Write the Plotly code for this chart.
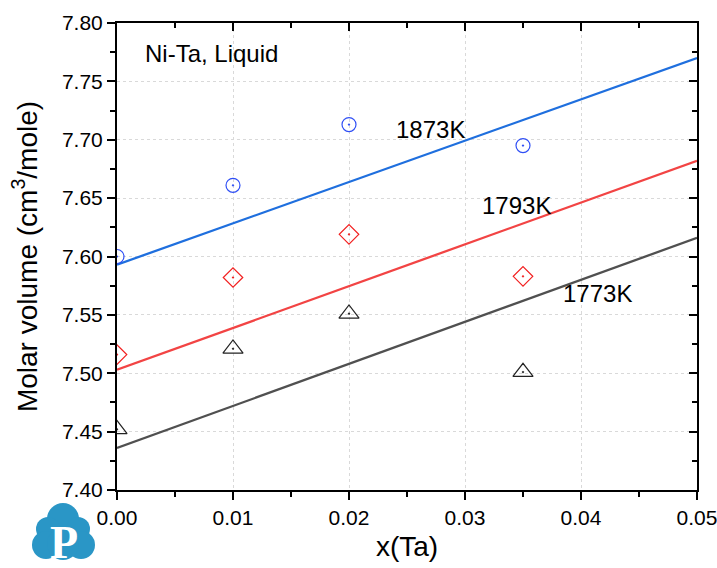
import plotly.graph_objects as go

# ---- data ----
x_exp = [0.0, 0.01, 0.02, 0.035]
v_1873 = [7.600, 7.661, 7.713, 7.695]
v_1793 = [7.516, 7.582, 7.619, 7.583]
v_1773 = [7.452, 7.521, 7.551, 7.501]

x_fit = [0.0, 0.05]
fit_1873 = [7.593, 7.770]
fit_1793 = [7.503, 7.682]
fit_1773 = [7.436, 7.616]

x_ticks = [0.00, 0.01, 0.02, 0.03, 0.04, 0.05]
x_ticklabels = ["0.00", "0.01", "0.02", "0.03", "0.04", "0.05"]
y_ticks = [7.40, 7.45, 7.50, 7.55, 7.60, 7.65, 7.70, 7.75, 7.80]
y_ticklabels = ["7.40", "7.45", "7.50", "7.55", "7.60", "7.65", "7.70", "7.75", "7.80"]

labels = ["1873K", "1793K", "1773K"]
label_x = [0.0270, 0.0344, 0.0414]
label_y = [7.709, 7.644, 7.568]

FONT = "Liberation Sans, Arial, sans-serif"

W, H = 717, 568
PL, PR, PT, PB = 117, 697, 23, 490


def px2paper_x(px):
    return (px - PL) / (PR - PL)


def px2paper_y(py):
    return (PB - py) / (PB - PT)


fig = go.Figure()

# fit lines
fig.add_trace(go.Scatter(x=x_fit, y=fit_1873, mode="lines",
                         line=dict(color="#1f6fde", width=2.3), showlegend=False))
fig.add_trace(go.Scatter(x=x_fit, y=fit_1793, mode="lines",
                         line=dict(color="#f24444", width=2.3), showlegend=False))
fig.add_trace(go.Scatter(x=x_fit, y=fit_1773, mode="lines",
                         line=dict(color="#505050", width=2.3), showlegend=False))

# experimental points
fig.add_trace(go.Scatter(x=x_exp, y=v_1873, mode="markers",
                         marker=dict(symbol="circle-open-dot", size=14, color="#2f4ff5",
                                     line=dict(width=1.2)), showlegend=False))
fig.add_trace(go.Scatter(x=x_exp, y=v_1793, mode="markers",
                         marker=dict(symbol="diamond-open-dot", size=15, color="#f22020",
                                     line=dict(width=1.2)), showlegend=False))
fig.add_trace(go.Scatter(x=x_exp, y=v_1773, mode="markers",
                         marker=dict(symbol="triangle-up-open-dot", size=17.5, color="#222222",
                                     line=dict(width=1.2)), showlegend=False))

# invisible trace for mirrored top/right axes
fig.add_trace(go.Scatter(x=[x_ticks[0]], y=[y_ticks[0]], xaxis="x2", yaxis="y2",
                         mode="markers", marker=dict(opacity=0), showlegend=False,
                         hoverinfo="skip"))

for txt, lx, ly in zip(labels, label_x, label_y):
    fig.add_annotation(x=lx, y=ly, text=txt, showarrow=False,
                       font=dict(family=FONT, size=24, color="black"))

fig.add_annotation(x=0.00224, y=7.774, text="Ni-Ta, Liquid", showarrow=False,
                   xanchor="left", font=dict(family=FONT, size=24, color="black"))

# logo (cloud with P), circles given in screen pixels
logo_col = "#2a96c6"
for (cx, cy, r) in [(63, 519, 16), (48, 529, 12), (78, 529, 12),
                    (46, 545, 14), (81, 545, 14), (63, 544, 16)]:
    fig.add_shape(type="circle", xref="paper", yref="paper",
                  x0=px2paper_x(cx - r), x1=px2paper_x(cx + r),
                  y0=px2paper_y(cy + r), y1=px2paper_y(cy - r),
                  fillcolor=logo_col, line=dict(width=0), layer="below")
fig.add_annotation(xref="paper", yref="paper", x=px2paper_x(63.5), y=px2paper_y(542),
                   text="<b>P</b>", showarrow=False, xanchor="center", yanchor="middle",
                   font=dict(family="Liberation Serif, DejaVu Serif, serif", size=46, color="white"))

axis_common = dict(showline=True, linecolor="black", linewidth=2,
                   tickfont=dict(family=FONT, size=21, color="black"),
                   tickcolor="black", tickwidth=2, ticklen=8, automargin=False)

GRID = dict(showgrid=True, gridcolor="#d9d9d9", griddash="3px,3px", gridwidth=1)

fig.update_layout(
    width=W, height=H,
    margin=dict(l=PL, r=W - PR, t=PT, b=H - PB, autoexpand=False),
    paper_bgcolor="white", plot_bgcolor="white",
    xaxis=dict(range=[0, 0.05], tickvals=x_ticks, ticktext=x_ticklabels, ticks="outside",
               zeroline=False, ticklabeloverflow="allow",
               minor=dict(dtick=0.005, tick0=0, ticks="outside", ticklen=5, tickwidth=2,
                          tickcolor="black", showgrid=False),
               title=dict(text="x(Ta)", font=dict(family=FONT, size=28, color="black"), standoff=8),
               **GRID, **axis_common),
    yaxis=dict(range=[7.40, 7.80], tickvals=y_ticks, ticktext=y_ticklabels, ticks="outside",
               zeroline=False, ticklabeloverflow="allow",
               minor=dict(dtick=0.025, tick0=7.4, ticks="outside", ticklen=5, tickwidth=2,
                          tickcolor="black", showgrid=False),
               title=dict(text="Molar volume (cm<sup>3</sup>/mole)",
                          font=dict(family=FONT, size=28, color="black"), standoff=16),
               **GRID, **axis_common),
    xaxis2=dict(range=[0, 0.05], overlaying="x", side="top", tickvals=x_ticks,
                ticks="inside", showticklabels=False, showgrid=False, zeroline=False,
                minor=dict(dtick=0.005, tick0=0, ticks="inside", ticklen=5, tickwidth=2,
                           tickcolor="black", showgrid=False),
                **axis_common),
    yaxis2=dict(range=[7.40, 7.80], overlaying="y", side="right", tickvals=y_ticks,
                ticks="inside", showticklabels=False, showgrid=False, zeroline=False,
                minor=dict(dtick=0.025, tick0=7.4, ticks="inside", ticklen=5, tickwidth=2,
                           tickcolor="black", showgrid=False),
                **axis_common),
)

fig.write_html("out.html", config={"displayModeBar": False},
               post_script="document.body.style.margin='0';document.body.style.overflow='hidden';")
